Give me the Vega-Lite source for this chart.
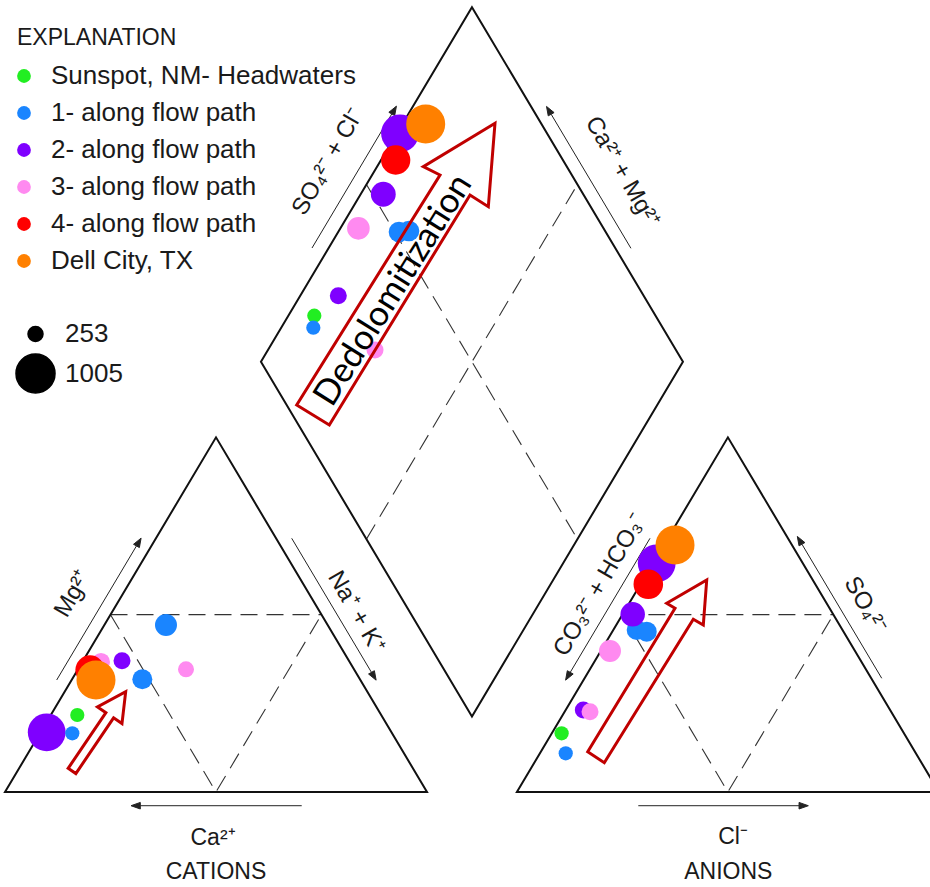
{
  "$schema": "https://vega.github.io/schema/vega-lite/v6.json",
  "width": 930,
  "height": 887,
  "autosize": {"type": "none"},
  "padding": 0,
  "background": "white",
  "config": {
    "view": {"stroke": null},
    "legend": {"labelFont": "Liberation Sans", "titleFont": "Liberation Sans", "labelColor": "#1a1a1a", "titleColor": "#1a1a1a", "padding": 0, "labelLimit": 0}
  },
  "datasets": {
    "dashed": [
      {"id": "d1", "k": 1, "x": 25, "y": 43.301}, {"id": "d1", "k": 2, "x": 75, "y": 43.301},
      {"id": "d2", "k": 1, "x": 25, "y": 43.301}, {"id": "d2", "k": 2, "x": 50, "y": 0}, {"id": "d2", "k": 3, "x": 75, "y": 43.301},
      {"id": "d3", "k": 1, "x": 146.3, "y": 43.301}, {"id": "d3", "k": 2, "x": 196.3, "y": 43.301},
      {"id": "d4", "k": 1, "x": 146.3, "y": 43.301}, {"id": "d4", "k": 2, "x": 171.3, "y": 0}, {"id": "d4", "k": 3, "x": 196.3, "y": 43.301},
      {"id": "d5", "k": 1, "x": 85.65, "y": 61.747}, {"id": "d5", "k": 2, "x": 135.65, "y": 148.35},
      {"id": "d6", "k": 1, "x": 85.65, "y": 148.35}, {"id": "d6", "k": 2, "x": 135.65, "y": 61.747}
    ],
    "outlines": [
      {"id": "t1", "k": 1, "x": 0, "y": 0}, {"id": "t1", "k": 2, "x": 100, "y": 0}, {"id": "t1", "k": 3, "x": 50, "y": 86.603},
      {"id": "t2", "k": 1, "x": 121.3, "y": 0}, {"id": "t2", "k": 2, "x": 221.3, "y": 0}, {"id": "t2", "k": 3, "x": 171.3, "y": 86.603},
      {"id": "dm", "k": 1, "x": 110.65, "y": 18.446}, {"id": "dm", "k": 2, "x": 60.65, "y": 105.049}, {"id": "dm", "k": 3, "x": 110.65, "y": 191.651}, {"id": "dm", "k": 4, "x": 160.65, "y": 105.049}
    ],
    "axisArrows": [
      {"id": "a1", "k": 1, "x": 12.25, "y": 27.35}, {"id": "a1", "k": 2, "x": 31.15, "y": 60.085},
      {"id": "a2", "k": 1, "x": 67.94, "y": 61.95}, {"id": "a2", "k": 2, "x": 86.84, "y": 29.215},
      {"id": "a3", "k": 1, "x": 70.31, "y": -3.35}, {"id": "a3", "k": 2, "x": 32.06, "y": -3.35},
      {"id": "a4", "k": 1, "x": 72.75, "y": 132.84}, {"id": "a4", "k": 2, "x": 91.65, "y": 165.575},
      {"id": "a5", "k": 1, "x": 148.32, "y": 132.77}, {"id": "a5", "k": 2, "x": 129.42, "y": 165.505},
      {"id": "a6", "k": 1, "x": 152.84, "y": 61.95}, {"id": "a6", "k": 2, "x": 133.94, "y": 29.215},
      {"id": "a7", "k": 1, "x": 207.75, "y": 27.77}, {"id": "a7", "k": 2, "x": 188.85, "y": 60.505},
      {"id": "a8", "k": 1, "x": 150.07, "y": -3.35}, {"id": "a8", "k": 2, "x": 188.16, "y": -3.35}
    ],
    "arrowHeads": [
      {"id": "h1", "k": 1, "x": 32.25, "y": 61.99}, {"id": "h1", "k": 2, "x": 31.843, "y": 59.685}, {"id": "h1", "k": 3, "x": 30.457, "y": 60.485},
      {"id": "h2", "k": 1, "x": 87.94, "y": 27.31}, {"id": "h2", "k": 2, "x": 87.533, "y": 29.615}, {"id": "h2", "k": 3, "x": 86.147, "y": 28.815},
      {"id": "h3", "k": 1, "x": 29.86, "y": -3.35}, {"id": "h3", "k": 2, "x": 32.06, "y": -2.55}, {"id": "h3", "k": 3, "x": 32.06, "y": -4.15},
      {"id": "h4", "k": 1, "x": 92.75, "y": 167.48}, {"id": "h4", "k": 2, "x": 92.343, "y": 165.175}, {"id": "h4", "k": 3, "x": 90.957, "y": 165.975},
      {"id": "h5", "k": 1, "x": 128.32, "y": 167.41}, {"id": "h5", "k": 2, "x": 130.113, "y": 165.905}, {"id": "h5", "k": 3, "x": 128.727, "y": 165.105},
      {"id": "h6", "k": 1, "x": 132.84, "y": 27.31}, {"id": "h6", "k": 2, "x": 134.633, "y": 28.815}, {"id": "h6", "k": 3, "x": 133.247, "y": 29.615},
      {"id": "h7", "k": 1, "x": 187.75, "y": 62.41}, {"id": "h7", "k": 2, "x": 189.543, "y": 60.905}, {"id": "h7", "k": 3, "x": 188.157, "y": 60.105},
      {"id": "h8", "k": 1, "x": 190.36, "y": -3.35}, {"id": "h8", "k": 2, "x": 188.16, "y": -2.55}, {"id": "h8", "k": 3, "x": 188.16, "y": -4.15}
    ],
    "redArrows": [
      {"id": "big", "k": 1, "x": 69.12, "y": 94.51}, {"id": "big", "k": 2, "x": 76.85, "y": 89.62}, {"id": "big", "k": 3, "x": 110.19, "y": 145.79}, {"id": "big", "k": 4, "x": 114.53, "y": 142.93}, {"id": "big", "k": 5, "x": 116.11, "y": 163.3}, {"id": "big", "k": 6, "x": 99.12, "y": 152.7}, {"id": "big", "k": 7, "x": 103.08, "y": 150.67},
      {"id": "cat", "k": 1, "x": 14.96, "y": 5.77}, {"id": "cat", "k": 2, "x": 16.79, "y": 4.49}, {"id": "cat", "k": 3, "x": 25.73, "y": 18.1}, {"id": "cat", "k": 4, "x": 27.72, "y": 16.71}, {"id": "cat", "k": 5, "x": 28.6, "y": 24.49}, {"id": "cat", "k": 6, "x": 21.91, "y": 20.76}, {"id": "cat", "k": 7, "x": 23.91, "y": 19.37},
      {"id": "an", "k": 1, "x": 138.08, "y": 9.84}, {"id": "an", "k": 2, "x": 142.01, "y": 7.16}, {"id": "an", "k": 3, "x": 163.1, "y": 42.17}, {"id": "an", "k": 4, "x": 165.47, "y": 40.78}, {"id": "an", "k": 5, "x": 166.28, "y": 51.77}, {"id": "an", "k": 6, "x": 156.8, "y": 46.08}, {"id": "an", "k": 7, "x": 158.77, "y": 44.86}
    ],
    "labelsUp": [
      {"label": "Mg²⁺", "x": 16.11, "y": 48.35},
      {"label": "SO₄²⁻ + Cl⁻", "x": 76.54, "y": 153.85},
      {"label": "CO₃²⁻ + HCO₃⁻", "x": 141.0, "y": 50.55}
    ],
    "labelsDown": [
      {"label": "Na⁺ + K⁺", "x": 83.18, "y": 43.96},
      {"label": "Ca²⁺ + Mg²⁺", "x": 146.21, "y": 151.4},
      {"label": "SO₄²⁻", "x": 203.79, "y": 45.67}
    ],
    "labelsFlat": [
      {"label": "Ca²⁺", "x": 49.29, "y": -11.23},
      {"label": "CATIONS", "x": 50.0, "y": -19.46},
      {"label": "Cl⁻", "x": 172.51, "y": -10.99},
      {"label": "ANIONS", "x": 171.4, "y": -19.46}
    ],
    "note": [
      {"label": "Dedolomitization", "x": 91.94, "y": 122.59}
    ],
    "samples": [
      {"panel": "cations", "group": "2- along flow path", "x": 9.88, "y": 14.58, "tds": 950},
      {"panel": "cations", "group": "1- along flow path", "x": 15.95, "y": 14.33, "tds": 240},
      {"panel": "cations", "group": "Sunspot, NM- Headwaters", "x": 17.13, "y": 18.8, "tds": 240},
      {"panel": "cations", "group": "3- along flow path", "x": 22.75, "y": 31.75, "tds": 310},
      {"panel": "cations", "group": "4- along flow path", "x": 20.14, "y": 29.79, "tds": 620},
      {"panel": "cations", "group": "Dell City, TX", "x": 21.56, "y": 27.35, "tds": 1005},
      {"panel": "cations", "group": "2- along flow path", "x": 27.73, "y": 32.06, "tds": 290},
      {"panel": "cations", "group": "1- along flow path", "x": 32.54, "y": 27.52, "tds": 355},
      {"panel": "cations", "group": "1- along flow path", "x": 38.15, "y": 40.78, "tds": 403},
      {"panel": "cations", "group": "3- along flow path", "x": 42.89, "y": 29.96, "tds": 271},
      {"panel": "anions", "group": "1- along flow path", "x": 132.87, "y": 9.45, "tds": 240},
      {"panel": "anions", "group": "Sunspot, NM- Headwaters", "x": 131.9, "y": 14.33, "tds": 240},
      {"panel": "anions", "group": "2- along flow path", "x": 137.04, "y": 20.02, "tds": 290},
      {"panel": "anions", "group": "3- along flow path", "x": 138.63, "y": 19.61, "tds": 290},
      {"panel": "anions", "group": "3- along flow path", "x": 143.36, "y": 34.43, "tds": 403},
      {"panel": "anions", "group": "1- along flow path", "x": 149.69, "y": 39.56, "tds": 355},
      {"panel": "anions", "group": "1- along flow path", "x": 152.06, "y": 39.15, "tds": 355},
      {"panel": "anions", "group": "2- along flow path", "x": 148.74, "y": 43.39, "tds": 470},
      {"panel": "anions", "group": "2- along flow path", "x": 154.43, "y": 55.85, "tds": 950},
      {"panel": "anions", "group": "4- along flow path", "x": 152.44, "y": 50.72, "tds": 630},
      {"panel": "anions", "group": "Dell City, TX", "x": 158.77, "y": 60.32, "tds": 1005},
      {"panel": "diamond", "group": "Sunspot, NM- Headwaters", "x": 73.29, "y": 116.31, "tds": 240},
      {"panel": "diamond", "group": "1- along flow path", "x": 73.06, "y": 113.38, "tds": 240},
      {"panel": "diamond", "group": "2- along flow path", "x": 78.98, "y": 121.2, "tds": 290},
      {"panel": "diamond", "group": "3- along flow path", "x": 87.68, "y": 107.94, "tds": 290},
      {"panel": "diamond", "group": "3- along flow path", "x": 83.74, "y": 137.65, "tds": 420},
      {"panel": "diamond", "group": "1- along flow path", "x": 93.36, "y": 136.75, "tds": 370},
      {"panel": "diamond", "group": "1- along flow path", "x": 95.73, "y": 137.0, "tds": 370},
      {"panel": "diamond", "group": "2- along flow path", "x": 89.64, "y": 145.96, "tds": 480},
      {"panel": "diamond", "group": "2- along flow path", "x": 93.6, "y": 160.85, "tds": 950},
      {"panel": "diamond", "group": "4- along flow path", "x": 92.58, "y": 154.33, "tds": 620},
      {"panel": "diamond", "group": "Dell City, TX", "x": 99.69, "y": 163.13, "tds": 1005}
    ]
  },
  "encoding": {
    "x": {"field": "x", "type": "quantitative", "scale": {"domain": [-1.185, 219.19], "nice": false, "zero": false}, "axis": null},
    "y": {"field": "y", "type": "quantitative", "scale": {"domain": [-23.2, 193.4], "nice": false, "zero": false}, "axis": null}
  },
  "layer": [
    {
      "data": {"name": "dashed"},
      "mark": {"type": "line", "color": "#333333", "strokeWidth": 1.1, "strokeDash": [17, 9]},
      "encoding": {"detail": {"field": "id"}, "order": {"field": "k", "type": "quantitative"}}
    },
    {
      "data": {"name": "outlines"},
      "mark": {"type": "line", "color": "#111111", "strokeWidth": 2, "interpolate": "linear-closed", "strokeJoin": "miter"},
      "encoding": {"detail": {"field": "id"}, "order": {"field": "k", "type": "quantitative"}}
    },
    {
      "data": {"name": "axisArrows"},
      "mark": {"type": "line", "color": "#222222", "strokeWidth": 1},
      "encoding": {"detail": {"field": "id"}, "order": {"field": "k", "type": "quantitative"}}
    },
    {
      "data": {"name": "arrowHeads"},
      "mark": {"type": "line", "color": "#222222", "fill": "#222222", "strokeWidth": 1, "interpolate": "linear-closed"},
      "encoding": {"detail": {"field": "id"}, "order": {"field": "k", "type": "quantitative"}}
    },
    {
      "data": {"name": "labelsUp"},
      "mark": {"type": "text", "angle": -60, "font": "Liberation Sans", "fontSize": 24, "color": "#1a1a1a", "align": "center", "baseline": "middle"},
      "encoding": {"text": {"field": "label"}}
    },
    {
      "data": {"name": "labelsDown"},
      "mark": {"type": "text", "angle": 60, "font": "Liberation Sans", "fontSize": 24, "color": "#1a1a1a", "align": "center", "baseline": "middle"},
      "encoding": {"text": {"field": "label"}}
    },
    {
      "data": {"name": "labelsFlat"},
      "mark": {"type": "text", "font": "Liberation Sans", "fontSize": 23, "color": "#1a1a1a", "align": "center", "baseline": "middle"},
      "encoding": {"text": {"field": "label"}}
    },
    {
      "data": {"name": "samples"},
      "mark": {"type": "circle", "opacity": 1},
      "encoding": {
        "color": {
          "field": "group", "type": "nominal",
          "scale": {
            "domain": ["Sunspot, NM- Headwaters", "1- along flow path", "2- along flow path", "3- along flow path", "4- along flow path", "Dell City, TX"],
            "range": ["#22ee22", "#1a85ff", "#7f00ff", "#ff8af0", "#ff0000", "#ff8000"]
          },
          "legend": {
            "title": "EXPLANATION", "orient": "none", "legendX": 17, "legendY": 27,
            "titleFontSize": 23, "titleFontWeight": "normal", "titlePadding": 13,
            "labelFontSize": 26, "symbolType": "circle", "symbolSize": 190, "symbolStrokeWidth": 0,
            "symbolOffset": -6,
            "rowPadding": 11, "labelOffset": 14
          }
        },
        "size": {
          "field": "tds", "type": "quantitative",
          "scale": {"domain": [253, 1005], "range": [225, 1521], "zero": false},
          "legend": {
            "title": null, "orient": "none", "legendX": 15, "legendY": 321, "values": [253, 1005], "format": "d",
            "labelFontSize": 26, "symbolFillColor": "black", "symbolStrokeColor": "black", "symbolOpacity": 1,
            "rowPadding": 4, "labelOffset": 9
          }
        }
      }
    },
    {
      "data": {"name": "redArrows"},
      "mark": {"type": "line", "color": "#c00000", "strokeWidth": 3, "interpolate": "linear-closed", "strokeJoin": "miter"},
      "encoding": {"detail": {"field": "id"}, "order": {"field": "k", "type": "quantitative"}}
    },
    {
      "data": {"name": "note"},
      "mark": {"type": "text", "angle": -58, "font": "Lato", "fontSize": 35, "color": "#000000", "align": "center", "baseline": "middle"},
      "encoding": {"text": {"field": "label"}}
    }
  ]
}
